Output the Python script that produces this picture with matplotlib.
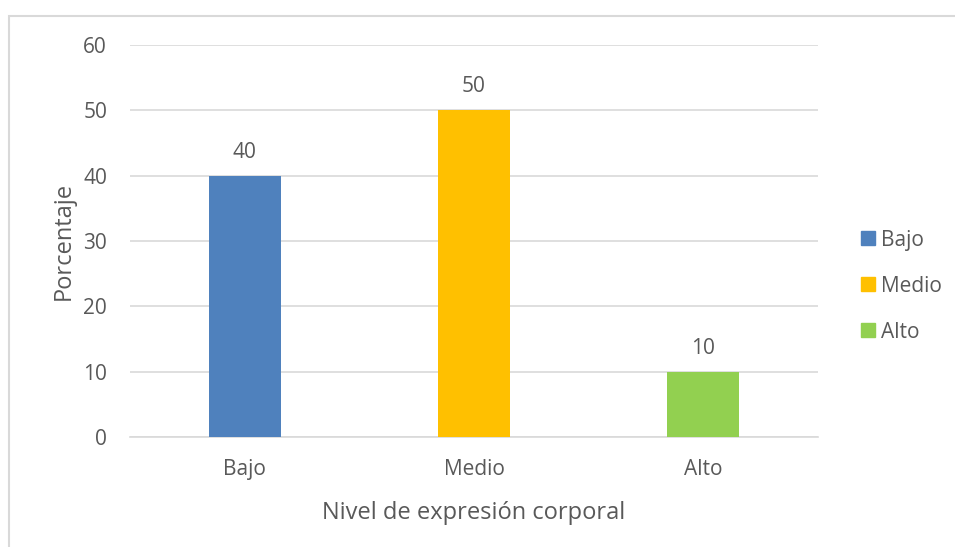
import matplotlib.pyplot as plt
from matplotlib.patches import Rectangle, Patch

categorias = ['Bajo', 'Medio', 'Alto']
porcentajes = [40, 50, 10]
colores = ['#4F81BD', '#FFC000', '#92D050']
yticks = [0, 10, 20, 30, 40, 50, 60]

gris = '#595959'
plt.rcParams['font.family'] = ['Open Sans', 'DejaVu Sans']

fig = plt.figure(figsize=(9.55, 5.47), dpi=100)
ax = fig.add_axes([0.1361, 0.2011, 0.7204, 0.7166])

# marco del gráfico (recortado por la derecha y abajo)
fig.patches.append(Rectangle((9 / 955, -0.1), 1.2, 1 - 16 / 547 + 0.1,
                             transform=fig.transFigure, fill=False,
                             edgecolor='#D9D9D9', linewidth=1.5, zorder=0))

x = range(len(categorias))
bars = ax.bar(x, porcentajes, width=0.314, color=colores, zorder=3)
for b, v in zip(bars, porcentajes):
    ax.text(b.get_x() + b.get_width() / 2, v + 2.0, str(v), ha='center',
            va='bottom', fontsize=15, color=gris)

ax.set_xlim(-0.5, 2.5)
ax.set_ylim(0, 60)
ax.set_yticks(yticks)
ax.set_xticks(list(x))
ax.set_xticklabels(categorias)
ax.grid(axis='y', color='#D9D9D9', linewidth=1.2, zorder=0)
for s in ['top', 'right', 'left']:
    ax.spines[s].set_visible(False)
ax.spines['bottom'].set_color('#D9D9D9')
ax.spines['bottom'].set_linewidth(1.2)
ax.tick_params(length=0, labelsize=15, labelcolor=gris)
ax.tick_params(axis='y', pad=16.5)
ax.tick_params(axis='x', pad=16)

ax.set_ylabel('Porcentaje', fontsize=17, color=gris, labelpad=5)
ax.set_xlabel('Nivel de expresión corporal', fontsize=17, color=gris, labelpad=15)

handles = [Patch(color=c, label=n) for c, n in zip(colores, categorias)]
ax.legend(handles=handles, loc='center left', bbox_to_anchor=(1.035, 0.385),
          frameon=False, fontsize=15, labelcolor=gris, handlelength=0.67,
          handleheight=0.67, handletextpad=0.3, labelspacing=1.2)

plt.savefig('out.png', dpi=100)
